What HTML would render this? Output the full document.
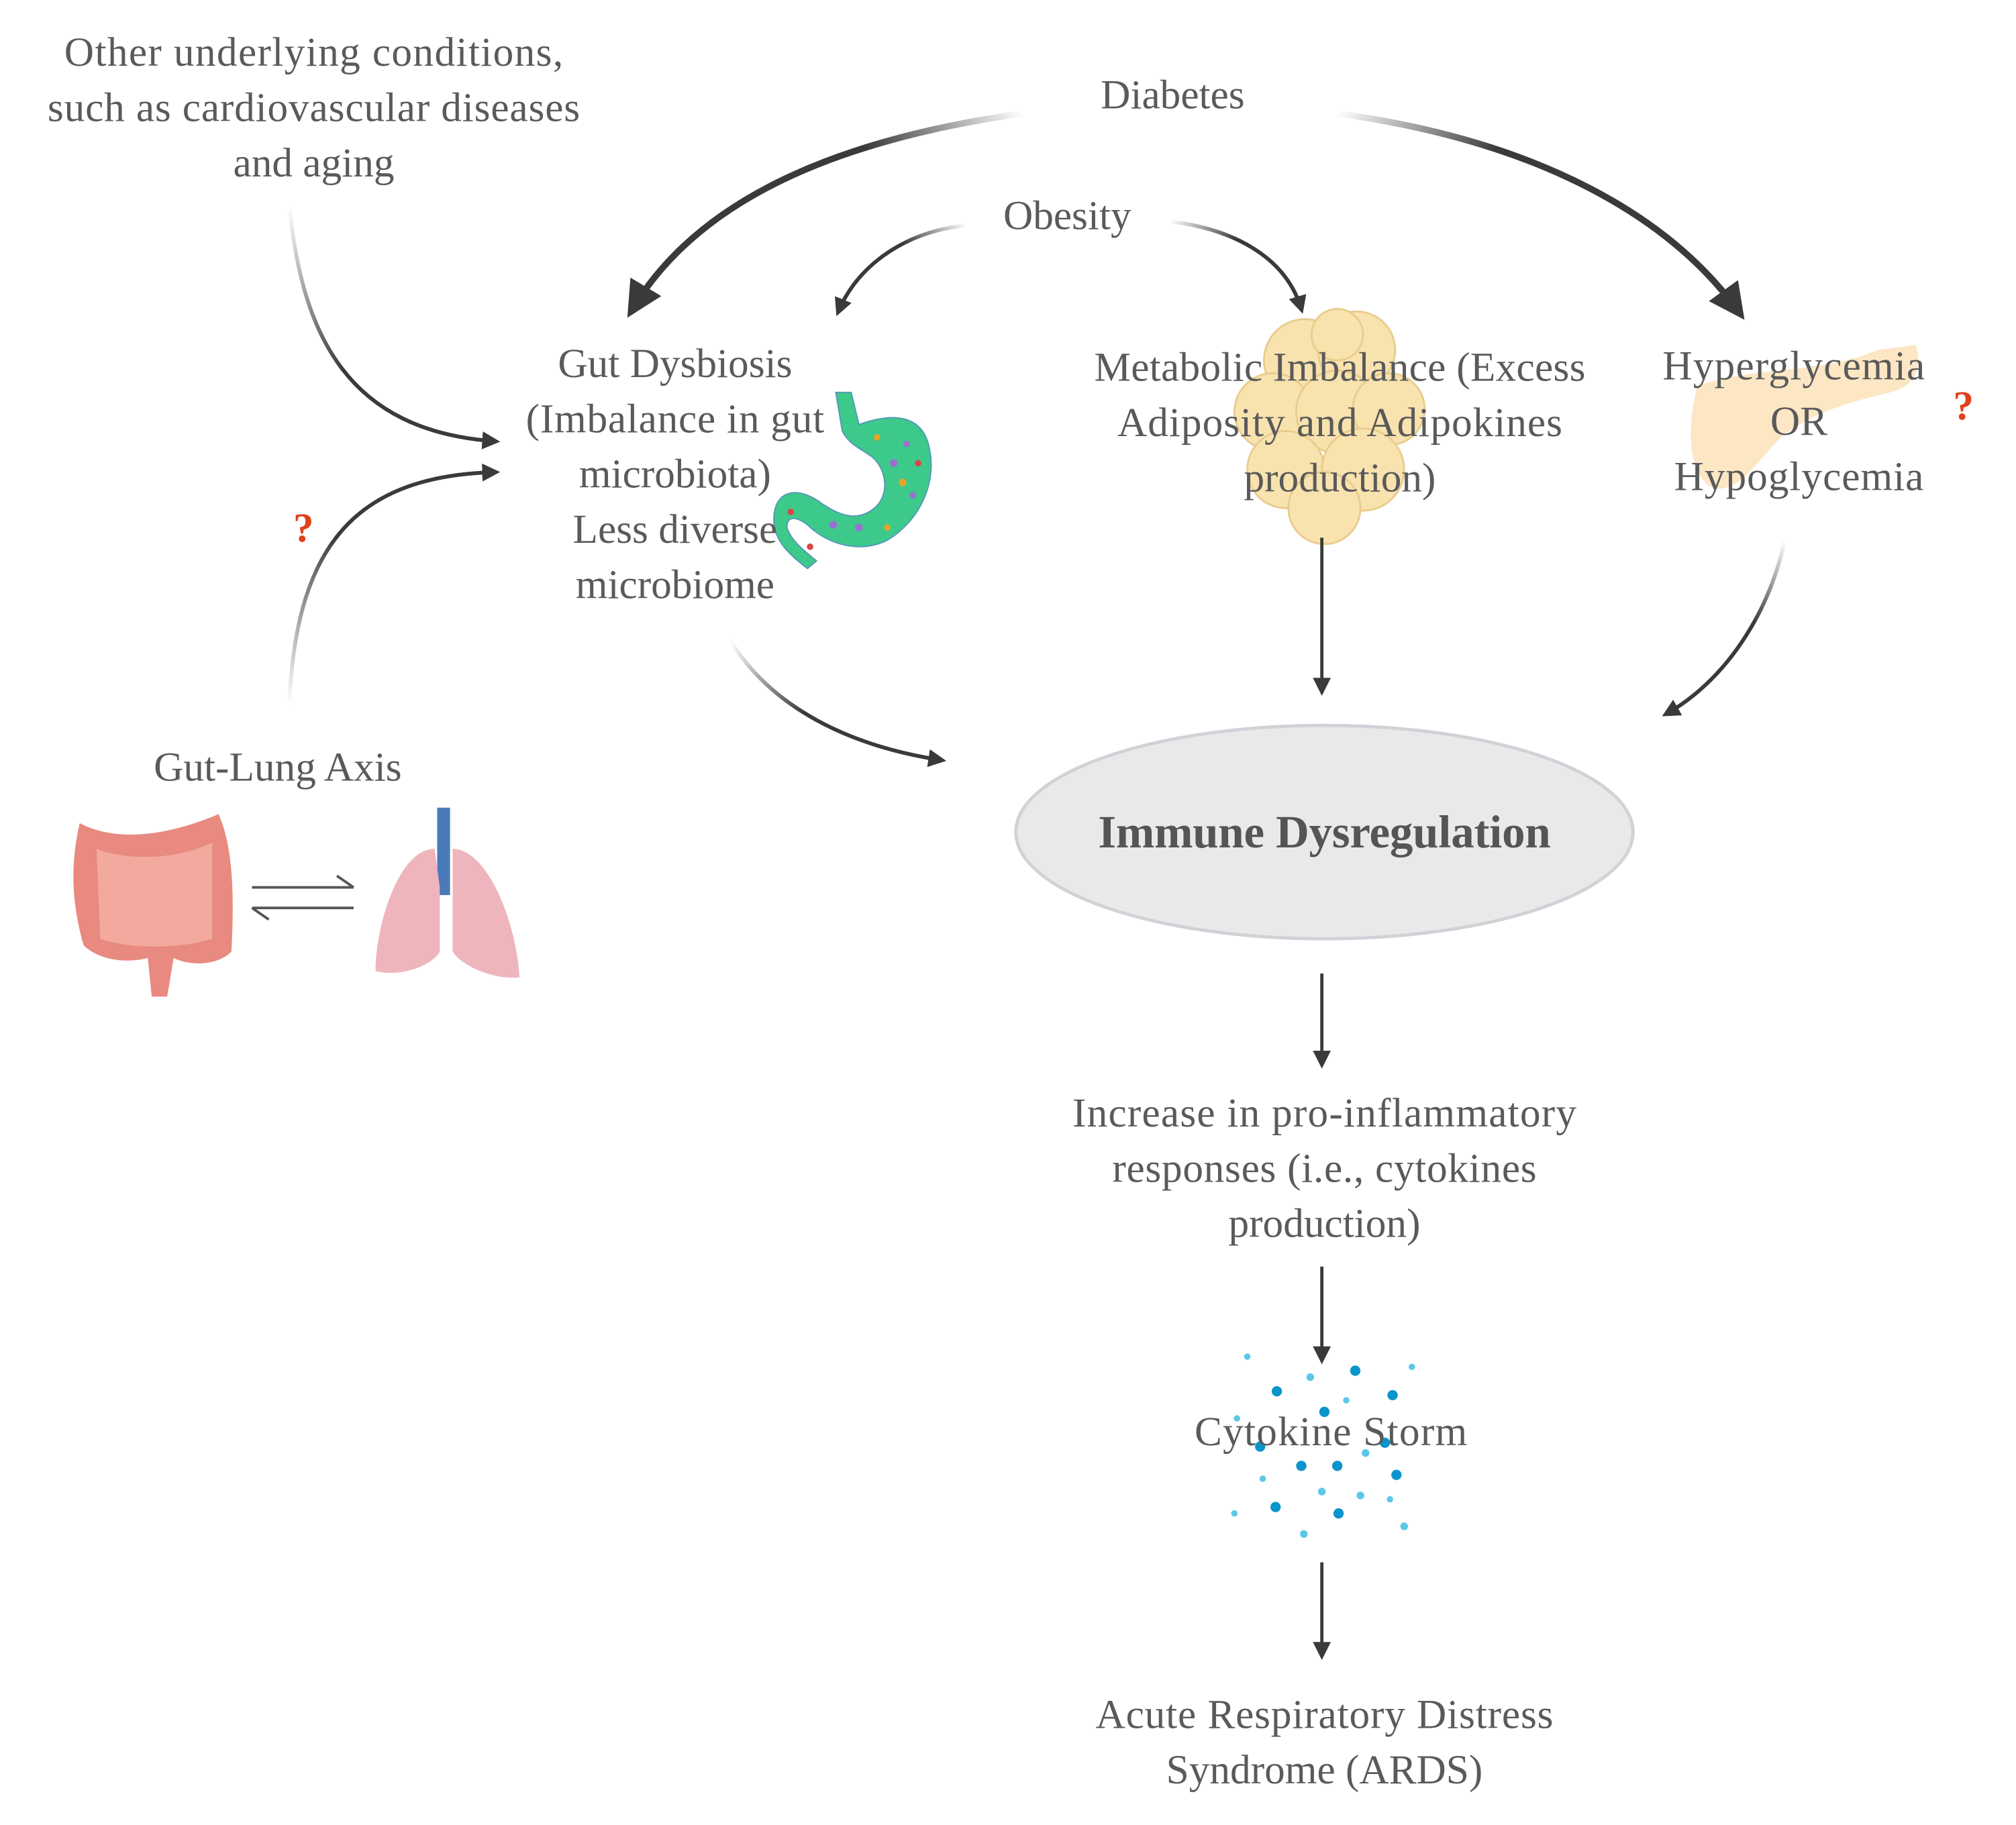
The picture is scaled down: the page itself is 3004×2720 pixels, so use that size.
<!DOCTYPE html>
<html><head><meta charset="utf-8"><style>
html,body{margin:0;padding:0;background:#fff;}
svg{display:block;}
text{font-family:"Liberation Serif",serif;fill:#5a5a5a;text-anchor:middle;}
</style></head><body>
<svg width="3004" height="2720" viewBox="0 0 1560 1412" xmlns="http://www.w3.org/2000/svg">
<defs>
<marker id="ahs" markerWidth="14" markerHeight="14" refX="10" refY="7" orient="auto" markerUnits="userSpaceOnUse" viewBox="0 0 14 14"><path d="M0,0 L14,7 L0,14 z" fill="#3a3a3a"/></marker>
<marker id="ahb" markerWidth="28" markerHeight="28" refX="20" refY="14" orient="auto" markerUnits="userSpaceOnUse" viewBox="0 0 28 28"><path d="M0,0 L28,14 L0,28 z" fill="#3a3a3a"/></marker>
<linearGradient id="gL" x1="795" y1="88" x2="490" y2="245" gradientUnits="userSpaceOnUse"><stop offset="0" stop-color="#3a3a3a" stop-opacity="0"/><stop offset="0.35" stop-color="#3a3a3a"/></linearGradient>
<linearGradient id="gR" x1="1040" y1="88" x2="1355" y2="248" gradientUnits="userSpaceOnUse"><stop offset="0" stop-color="#3a3a3a" stop-opacity="0"/><stop offset="0.35" stop-color="#3a3a3a"/></linearGradient>
<linearGradient id="gO1" x1="752" y1="175" x2="652" y2="246" gradientUnits="userSpaceOnUse"><stop offset="0" stop-color="#3a3a3a" stop-opacity="0"/><stop offset="0.4" stop-color="#3a3a3a"/></linearGradient>
<linearGradient id="gO2" x1="910" y1="172" x2="1012" y2="243" gradientUnits="userSpaceOnUse"><stop offset="0" stop-color="#3a3a3a" stop-opacity="0"/><stop offset="0.4" stop-color="#3a3a3a"/></linearGradient>
<linearGradient id="gA" x1="225" y1="160" x2="388" y2="343" gradientUnits="userSpaceOnUse"><stop offset="0" stop-color="#3a3a3a" stop-opacity="0"/><stop offset="0.5" stop-color="#3a3a3a"/></linearGradient>
<linearGradient id="gB" x1="225" y1="548" x2="388" y2="367" gradientUnits="userSpaceOnUse"><stop offset="0" stop-color="#3a3a3a" stop-opacity="0"/><stop offset="0.5" stop-color="#3a3a3a"/></linearGradient>
<linearGradient id="gC" x1="568" y1="498" x2="735" y2="592" gradientUnits="userSpaceOnUse"><stop offset="0" stop-color="#3a3a3a" stop-opacity="0"/><stop offset="0.4" stop-color="#3a3a3a"/></linearGradient>
<linearGradient id="gD" x1="1388" y1="420" x2="1293" y2="557" gradientUnits="userSpaceOnUse"><stop offset="0" stop-color="#3a3a3a" stop-opacity="0"/><stop offset="0.4" stop-color="#3a3a3a"/></linearGradient>
</defs>
<g transform="scale(0.995)">
<!-- fat cells -->
<g fill="#f7dea0" stroke="#e6c47a" stroke-width="1.5" opacity="0.85">
<circle cx="1015" cy="280" r="32"/><circle cx="1055" cy="272" r="30"/><circle cx="990" cy="320" r="30"/><circle cx="1040" cy="320" r="32"/><circle cx="1080" cy="318" r="28"/><circle cx="1000" cy="365" r="30"/><circle cx="1060" cy="365" r="32"/><circle cx="1030" cy="395" r="28"/><circle cx="1040" cy="260" r="20"/>
</g>
<!-- pancreas -->
<path d="M1320,300 C1360,285 1420,290 1460,272 L1490,268 C1495,285 1490,300 1470,305 C1440,312 1410,320 1385,340 C1365,360 1355,380 1335,380 C1315,375 1310,340 1320,300 z" fill="#fbe0b5" opacity="0.8"/>
<!-- stomach -->
<path d="M650,305 L662,305 L668,330 C690,322 715,320 722,345 C730,375 715,405 690,420 C665,432 640,420 628,408 C620,402 612,400 612,410 C615,420 625,428 635,436 L628,442 C612,430 600,418 602,400 C604,380 622,378 640,392 C655,402 668,405 680,395 C692,385 690,365 678,355 C668,348 660,345 655,335 z" fill="#3dc98a" stroke="#59b" stroke-width="1"/>
<g fill="#9a6fd0"><circle cx="695" cy="360" r="3"/><circle cx="668" cy="410" r="3"/><circle cx="705" cy="345" r="2.5"/><circle cx="648" cy="408" r="3"/><circle cx="710" cy="385" r="2.5"/></g>
<g fill="#e5a52a"><circle cx="702" cy="375" r="3"/><circle cx="682" cy="340" r="2.5"/><circle cx="690" cy="410" r="2.5"/></g>
<g fill="#d44"><circle cx="714" cy="360" r="2.5"/><circle cx="615" cy="398" r="2.5"/><circle cx="630" cy="425" r="2.5"/></g>
<!-- intestine -->
<path d="M62,640 C90,655 130,650 170,633 C182,660 182,700 180,740 C170,750 150,752 135,745 L130,775 L118,775 L115,745 C95,750 75,745 65,735 C55,700 55,670 62,640 z" fill="#e88a80"/>
<path d="M75,660 C100,670 140,668 165,655 L165,730 C140,738 100,738 78,730 z" fill="#f4a99e"/>
<!-- lungs -->
<rect x="340" y="628" width="10" height="68" fill="#4a7ab8"/>
<path d="M338,660 C310,660 292,720 292,755 C310,760 335,752 342,740 L342,690 z" fill="#eeb5bc"/>
<path d="M352,660 C380,660 402,720 404,760 C385,762 360,752 352,740 L352,690 z" fill="#eeb5bc"/>
<path d="M196,690 L275,690 M262,681 L275,690" stroke="#555" stroke-width="2" fill="none"/>
<path d="M275,706 L196,706 M209,715 L196,706" stroke="#555" stroke-width="2" fill="none"/>

<g fill="#0a94cc"><circle cx="993" cy="1082" r="4"/><circle cx="1054" cy="1066" r="4"/><circle cx="1083" cy="1085" r="4"/><circle cx="1030" cy="1098" r="4"/><circle cx="980" cy="1125" r="4"/><circle cx="1012" cy="1140" r="4"/><circle cx="1040" cy="1140" r="4"/><circle cx="1086" cy="1147" r="4"/><circle cx="992" cy="1172" r="4"/><circle cx="1041" cy="1177" r="4"/><circle cx="1077" cy="1122" r="4"/></g>
<g fill="#5cc8e8"><circle cx="970" cy="1055" r="2.5"/><circle cx="1019" cy="1071" r="3"/><circle cx="1098" cy="1063" r="2.5"/><circle cx="1047" cy="1089" r="2.5"/><circle cx="962" cy="1103" r="2.5"/><circle cx="982" cy="1150" r="2.5"/><circle cx="1028" cy="1160" r="3"/><circle cx="1058" cy="1163" r="3"/><circle cx="1081" cy="1166" r="2.5"/><circle cx="960" cy="1177" r="2.5"/><circle cx="1014" cy="1193" r="3"/><circle cx="1092" cy="1187" r="3"/><circle cx="1062" cy="1130" r="3"/></g>

<path d="M795,88 C640,110 540,160 492,240" stroke="url(#gL)" stroke-width="5" fill="none" marker-end="url(#ahb)"/>
<path d="M1040,88 C1200,110 1300,170 1352,242" stroke="url(#gR)" stroke-width="5" fill="none" marker-end="url(#ahb)"/>
<path d="M752,175 C700,180 665,210 652,242" stroke="url(#gO1)" stroke-width="3" fill="none" marker-end="url(#ahs)"/>
<path d="M910,172 C960,178 1000,200 1012,240" stroke="url(#gO2)" stroke-width="3" fill="none" marker-end="url(#ahs)"/>
<path d="M225,160 C235,260 270,335 385,343" stroke="url(#gA)" stroke-width="3" fill="none" marker-end="url(#ahs)"/>
<path d="M225,548 C230,420 280,370 385,367" stroke="url(#gB)" stroke-width="3" fill="none" marker-end="url(#ahs)"/>
<path d="M568,498 C600,550 660,580 732,591" stroke="url(#gC)" stroke-width="3" fill="none" marker-end="url(#ahs)"/>
<path d="M1028,418 L1028,537" stroke="#3a3a3a" stroke-width="2.5" fill="none" marker-end="url(#ahs)"/>
<path d="M1388,420 C1375,480 1340,530 1296,555" stroke="url(#gD)" stroke-width="3" fill="none" marker-end="url(#ahs)"/>
<path d="M1028,757 L1028,827" stroke="#3a3a3a" stroke-width="2.5" fill="none" marker-end="url(#ahs)"/>
<path d="M1028,985 L1028,1057" stroke="#3a3a3a" stroke-width="2.5" fill="none" marker-end="url(#ahs)"/>
<path d="M1028,1215 L1028,1287" stroke="#3a3a3a" stroke-width="2.5" fill="none" marker-end="url(#ahs)"/>

<ellipse cx="1030" cy="647" rx="240" ry="83" fill="#e9e9e9" stroke="#cfd2d6" stroke-width="2.5"/>
<text x="1030" y="659" style="font-size:36px;font-weight:bold;fill:#555" textLength="352">Immune Dysregulation</text>

<g style="font-size:32px">
<text x="244" y="51" textLength="388">Other underlying conditions,</text>
<text x="244" y="94" textLength="414">such as cardiovascular diseases</text>
<text x="244" y="137">and aging</text>
<text x="912" y="84">Diabetes</text>
<text x="830" y="178">Obesity</text>
<text x="525" y="293">Gut Dysbiosis</text>
<text x="525" y="336" textLength="232">(Imbalance in gut</text>
<text x="525" y="379">microbiota)</text>
<text x="525" y="422">Less diverse</text>
<text x="525" y="465">microbiome</text>
<text x="1042" y="296" textLength="382">Metabolic Imbalance (Excess</text>
<text x="1042" y="339" textLength="346">Adiposity and Adipokines</text>
<text x="1042" y="382">production)</text>
<text x="1395" y="295" textLength="204">Hyperglycemia</text>
<text x="1399" y="338">OR</text>
<text x="1399" y="381" textLength="194">Hypoglycemia</text>
<text x="216" y="607">Gut-Lung Axis</text>
<text x="1030" y="876" textLength="392">Increase in pro-inflammatory</text>
<text x="1030" y="919" textLength="330">responses (i.e., cytokines</text>
<text x="1030" y="962">production)</text>
<text x="1035" y="1124" textLength="212">Cytokine Storm</text>
<text x="1030" y="1344" textLength="356">Acute Respiratory Distress</text>
<text x="1030" y="1387">Syndrome (ARDS)</text>
</g>
<text x="1527" y="326" style="font-size:32px;font-weight:bold;fill:#e0401c">?</text>
<text x="236" y="421" style="font-size:32px;font-weight:bold;fill:#e0401c">?</text>
</g>
</svg>
</body></html>
